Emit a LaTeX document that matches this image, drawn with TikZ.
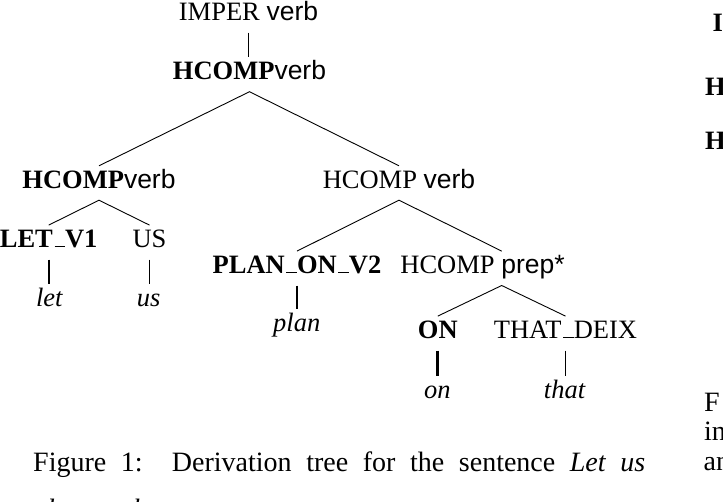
\documentclass[tikz,border=0pt]{standalone}
\usepackage{fontspec}
\setmainfont{Liberation Serif}
\newfontfamily\helv{Liberation Sans}
\usetikzlibrary{positioning}
\newcommand{\lowbar}{\kern.06em\vbox{\hrule width .4em height 1.3pt}}

\begin{document}
\begin{tikzpicture}[x=1pt,y=1pt,yscale=-1,xscale=1,
  lbl/.style={anchor=base,inner sep=0pt,text height=22pt,text depth=12pt,font=\fontsize{26.5}{30}\selectfont},
  leaf/.style={lbl,font=\fontsize{26.5}{30}\selectfont\itshape},
  branch/.style={line width=0.9pt},
  stem/.style={line width=1.6pt},
  capt/.style={anchor=base west,inner sep=0pt,font=\fontsize{28}{34}\selectfont}]
\useasboundingbox (0,0) rectangle (723,501);
\clip (0,0) rectangle (723,501);

% Text Node
\node [lbl] (imper) at (248.5,20.5) {IMPER {\helv verb}};
% Text Node
\node [lbl] (root) at (249.5,79.5) {\textbf{HCOMP}{\helv verb}};
% Text Node
\node [lbl] (lverb) at (99,188) {\textbf{HCOMP}{\helv verb}};
% Text Node
\node [lbl] (rverb) at (399,188) {HCOMP {\helv verb}};
% Text Node
\node [lbl] (letv) at (48.7,247.3) {\textbf{LET\lowbar V1}};
% Text Node
\node [lbl] (us) at (149.5,247.3) {US};
% Text Node
\node [lbl] (plan) at (297,273.3) {\textbf{PLAN\lowbar ON\lowbar V2}};
% Text Node
\node [lbl] (prep) at (482.5,273.3) {HCOMP {\helv prep*}};
% Text Node
\node [lbl] (on) at (437.8,338.3) {\textbf{ON}};
% Text Node
\node [lbl] (deix) at (565.5,338.3) {THAT\lowbar DEIX};

% Text Node
\node [leaf] (wlet) at (49.3,306) {let};
% Text Node
\node [leaf] (wus) at (148.7,306) {us};
% Text Node
\node [leaf] (wplan) at (296.7,331) {plan};
% Text Node
\node [leaf] (won) at (437.3,398) {on};
% Text Node
\node [leaf] (wthat) at (564.5,398) {that};

%Straight Lines
\draw [stem] (imper.south) -- (imper.south |- root.north);
\draw [branch] (lverb.north) -- (root.south) -- (rverb.north);
\draw [branch] (letv.north) -- (lverb.south) -- (us.north);
\draw [branch] (plan.north) -- (rverb.south) -- ([xshift=19.2pt]prep.north);
\draw [branch] (on.north) -- ([xshift=19.2pt]prep.south) -- (deix.north);
\draw [stem] (letv.south) -- (letv.south |- wlet.north);
\draw [stem] (us.south) -- (us.south |- wus.north);
\draw [stem] (plan.south) -- (plan.south |- wplan.north);
\draw [stem,line width=2.8pt] (on.south) -- (on.south |- won.north);
\draw [stem] (deix.south) -- (deix.south |- wthat.north);

% Text Node
\node [capt] (cap1) at (33,471.7) {\makebox[612pt][s]{Figure 1:\ \ Derivation tree for the sentence \textit{Let us}}};
% Text Node
\node [capt] (cap2) at (33,518) {\textit{plan on that.}};

% Text Node
\node [capt,font=\fontsize{26.5}{30}\selectfont\bfseries] (ri) at (712.5,31.7) {I};
% Text Node
\node [capt,font=\fontsize{26.5}{30}\selectfont\bfseries] (rh) at (705,95) {H};
% Text Node
\node [capt,font=\fontsize{26.5}{30}\selectfont\bfseries] (rhh) at (705,149.3) {H};
% Text Node
\node [capt] (rf) at (704,411.5) {F};
% Text Node
\node [capt] (rin) at (704,440.7) {in};
% Text Node
\node [capt] (ran) at (703.5,470.5) {an};

\end{tikzpicture}
\end{document}
